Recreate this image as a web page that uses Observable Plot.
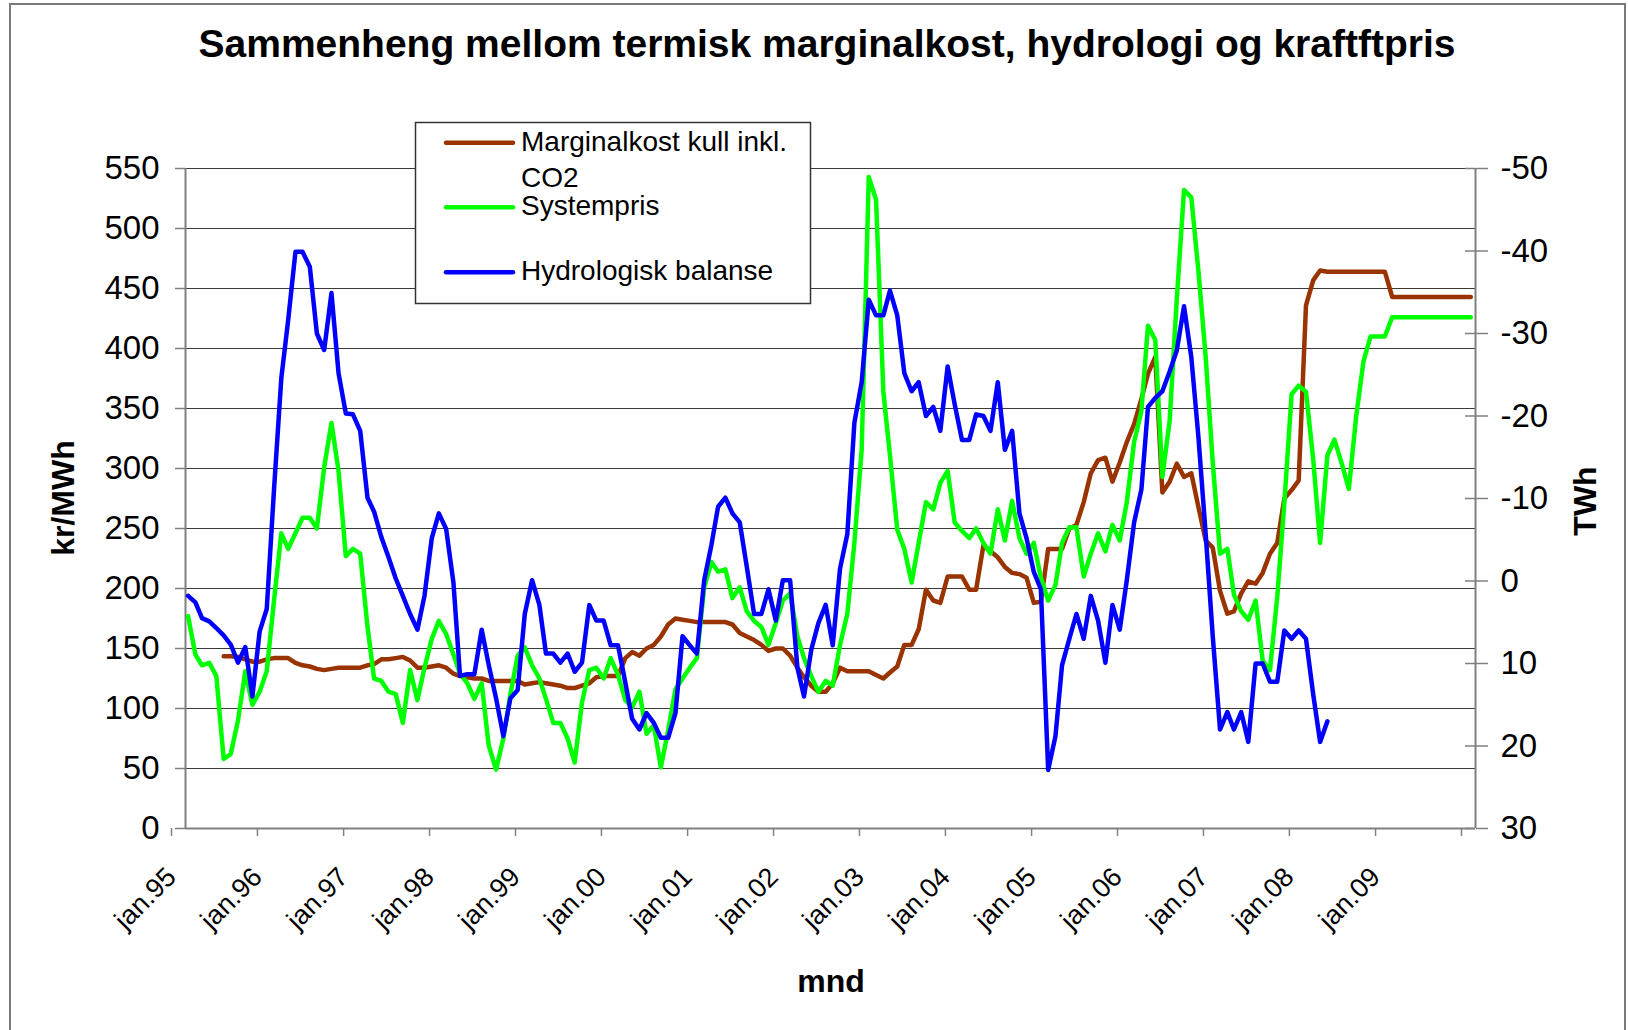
<!DOCTYPE html>
<html><head><meta charset="utf-8">
<script src="https://cdn.jsdelivr.net/npm/d3@7"></script>
<script src="https://cdn.jsdelivr.net/npm/@observablehq/plot@0.6"></script>
<style>
html,body{margin:0;padding:0;background:#fff;}
#wrap{position:relative;width:1628px;height:1030px;overflow:hidden;font-family:"Liberation Sans",Arial,sans-serif;}
#frame{position:absolute;left:9px;top:3px;width:1617px;height:1100px;border:2px solid #7a7a7a;border-bottom:none;box-sizing:border-box;}
#chart{position:absolute;left:0;top:0;}
#overlay{position:absolute;left:0;top:0;pointer-events:none;}
</style></head>
<body><div id="wrap"><div id="frame"></div><div id="chart"></div><svg id="overlay" width="1628" height="1030"></svg></div>
<script>
// ---- data (monthly, starting jan.95) ----
const seriesNames = ["Marginalkost kull inkl. CO2", "Systempris", "Hydrologisk balanse"];
const seriesColors = ["#993300", "#00ff00", "#0000ff"];
const xTickLabels = ["jan.95","jan.96","jan.97","jan.98","jan.99","jan.00","jan.01","jan.02","jan.03","jan.04","jan.05","jan.06","jan.07","jan.08","jan.09"];
const leftTicks = [0,50,100,150,200,250,300,350,400,450,500,550];
const rightTicks = [-50,-40,-30,-20,-10,0,10,20,30];

// kr/MWh
const marginalkost = [null,null,null,null,null,
143.5,143.5,143,141,139,139,141,142,142,142,
138,136,135,133,132,133,134,134,134,134,
136,137,141,141,142,143,140,134,134,135,
136,134,129,127,126,125,125,123,123,123,
123,123,120,121,122,121,120,119,117,117,
119,121,126,127,127,127,142,147,144,150,
153,160,170,175,174,173,172,172,172,172,
172,170,163,160,157,153,148,150,150,144,
134,126,119,114,114,121,134,131,131,131,
131,128,125,130,135,153,153,166,199,190,
188,210,210,210,199,199,236,231,226,218,
213,212,209,188,189,233,233,233,250,253,
272,296,307,309,289,305,322,337,358,379,
393,280,289,304,293,296,268,240,234,198,
179,181,196,206,204,213,229,238,275,282,
290,436,457,465,464,464,464,464,464,464,
464,464,464,443,443,443,443,443,443,443,
443,443,443,443,443];

// kr/MWh
const systempris = [177,145,136,138,127,58,62,90,131,103,
114,131,190,246,233,246,259,259,250,301,
338,298,227,233,229,168,125,123,114,112,
88,132,107,134,158,173,162,145,129,121,
108,121,69,49,75,112,144,151,136,125,
108,88,88,75,55,105,132,134,125,142,
128,107,101,114,79,86,51,82,116,125,
134,142,201,222,214,216,192,201,181,173,
168,153,171,190,196,160,142,127,114,123,
119,153,179,238,316,543,524,364,311,249,
233,205,238,272,266,288,298,255,248,242,
250,238,229,266,240,273,242,229,238,209,
190,203,238,251,251,210,229,246,231,253,
240,272,322,348,419,407,293,340,440,532,
526,465,393,305,229,233,195,181,174,190,
140,132,193,271,362,369,364,307,238,311,
324,304,283,343,389,410,410,410,426,426,
426,426,426,426,426,426,426,426,426,426];

// TWh (right axis, reversed)
const hydrologisk = [1.8,2.6,4.5,4.9,5.7,6.6,7.7,9.9,8.0,14.0,
6.1,3.4,-11.1,-24.6,-31.6,-39.9,-39.9,-38.1,-30.0,-28.0,
-34.9,-25.2,-20.3,-20.2,-18.2,-10.1,-8.4,-5.3,-2.9,-0.3,
1.8,4.0,5.9,1.8,-5.2,-8.2,-6.3,0.2,11.5,11.3,
11.3,5.9,10.2,14.2,18.8,14.2,13.2,4.0,-0.1,2.9,
8.8,8.8,9.9,8.8,11.0,9.9,2.9,4.8,4.8,7.8,
7.8,12.3,16.7,18.0,16.0,17.2,19.0,19.0,16.0,6.7,
7.8,8.8,-0.1,-4.4,-9.0,-10.1,-8.2,-7.1,-1.7,4.0,
4.0,1.0,4.8,-0.1,-0.1,10.5,14.0,8.3,5.1,2.9,
7.8,-1.5,-5.7,-19.2,-24.1,-34.1,-32.2,-32.2,-35.2,-32.2,
-25.2,-23.0,-24.1,-20.0,-21.1,-18.2,-26.0,-21.4,-17.1,-17.1,
-20.2,-20.0,-18.2,-24.1,-15.9,-18.2,-8.2,-5.2,-1.1,1.0,
22.9,18.8,10.2,7.0,4.0,7.0,1.8,4.8,9.9,2.9,
5.9,-0.1,-7.1,-11.1,-21.1,-22.2,-23.0,-25.4,-27.9,-33.3,
-27.1,-17.5,-5.7,6.7,18.0,15.9,18.0,15.9,19.5,10.0,
10.0,12.2,12.2,6.0,7.0,6.0,7.0,13.8,19.5,17.0];

// ---- build tables ----
const monthDate = i => new Date(Date.UTC(1995, i, 12));
const toRows = arr => arr.map((v, i) => ({date: monthDate(i), value: v})).filter(d => d.value != null);
const mkRows = toRows(marginalkost);
const spRows = toRows(systempris);
const hyRows = toRows(hydrologisk);

// right axis (TWh, reversed) expressed in left-axis units
const twh = d3.scaleLinear().domain([30, -50]).range([0, 550]);

const x0 = new Date(Date.UTC(1995, 0, 1)), x1 = new Date(Date.UTC(2010, 0, 1));
const yearTicks = d3.utcYear.range(x0, new Date(Date.UTC(2010, 0, 2)));
const W = 1628, H = 1030, ML = 185, MR = 153, MT = 168, MB = 202;
const plotW = W - ML - MR;

const chart = Plot.plot({
  width: W, height: H,
  marginLeft: ML, marginRight: MR, marginTop: MT, marginBottom: MB,
  style: {fontFamily: '"Liberation Sans", Arial, sans-serif', background: "transparent", color: "#000", overflow: "visible"},
  x: {type: "utc", domain: [x0, x1], label: null},
  y: {domain: [0, 550], label: null},
  marks: [
    Plot.ruleY(leftTicks.filter(t => t > 0), {stroke: "#3a3a3a", strokeWidth: 1, shapeRendering: "crispEdges"}),
    Plot.ruleY([0], {stroke: "#808080", strokeWidth: 2}),
    Plot.ruleX([x0, x1], {stroke: "#808080", strokeWidth: 2}),
    Plot.ruleY(rightTicks.map(twh), {stroke: "#808080", strokeWidth: 1.5, insetLeft: plotW - 10}),
    Plot.line(mkRows, {x: "date", y: "value", stroke: seriesColors[0], strokeWidth: 4.5}),
    Plot.line(spRows, {x: "date", y: "value", stroke: seriesColors[1], strokeWidth: 4.5}),
    Plot.line(hyRows, {x: "date", y: d => twh(d.value), stroke: seriesColors[2], strokeWidth: 4.5}),
    Plot.axisY(leftTicks, {anchor: "left", tickSize: 10, tickPadding: 16, fontSize: 33, stroke: "#808080", strokeWidth: 1.5, fill: "#000", label: null, tickFormat: d => String(d)}),
    Plot.axisY(rightTicks.map(twh), {anchor: "right", tickSize: 12, tickPadding: 13, fontSize: 33, stroke: "#808080", strokeWidth: 1.5, fill: "#000", label: null, tickFormat: v => String(Math.round(twh.invert(v)))}),
    Plot.axisX(yearTicks, {anchor: "bottom", tickSize: 8, tickPadding: 36, tickRotate: -45, fontSize: 27, dx: -14, stroke: "#808080", strokeWidth: 1.5, fill: "#000", label: null,
      tickFormat: d => xTickLabels[d.getUTCFullYear() - 1995] ?? ""})
  ]
});
document.getElementById("chart").appendChild(chart);

// ---- overlay: title, axis titles, legend ----
const ov = d3.select("#overlay").style("font-family", '"Liberation Sans", Arial, sans-serif');
ov.append("text").attr("x", 827).attr("y", 57).attr("text-anchor", "middle")
  .attr("font-weight", "bold").attr("font-size", 39)
  .text("Sammenheng mellom termisk marginalkost, hydrologi og kraftftpris");
ov.append("text").attr("transform", "translate(74,498) rotate(-90)").attr("text-anchor", "middle")
  .attr("font-weight", "bold").attr("font-size", 32).text("kr/MWh");
ov.append("text").attr("transform", "translate(1596,501) rotate(-90)").attr("text-anchor", "middle")
  .attr("font-weight", "bold").attr("font-size", 32).text("TWh");
ov.append("text").attr("x", 831).attr("y", 992).attr("text-anchor", "middle")
  .attr("font-weight", "bold").attr("font-size", 32).text("mnd");

const lg = ov.append("g");
lg.append("rect").attr("x", 415.5).attr("y", 122.5).attr("width", 395).attr("height", 181)
  .attr("fill", "#fff").attr("stroke", "#333").attr("stroke-width", 1.5);
const rowY = [142.7, 207.3, 272.3];
const legendLines = [["Marginalkost kull inkl.", "CO2"], [seriesNames[1]], [seriesNames[2]]];
legendLines.forEach((lines, i) => {
  lg.append("line").attr("x1", 446).attr("x2", 513).attr("y1", rowY[i]).attr("y2", rowY[i])
    .attr("stroke", seriesColors[i]).attr("stroke-width", 4.5).attr("stroke-linecap", "round");
  lines.forEach((t, j) => {
    lg.append("text").attr("x", 521).attr("y", rowY[i] + 8 + j * 36.5).attr("font-size", 28).text(t);
  });
});
</script></body></html>
